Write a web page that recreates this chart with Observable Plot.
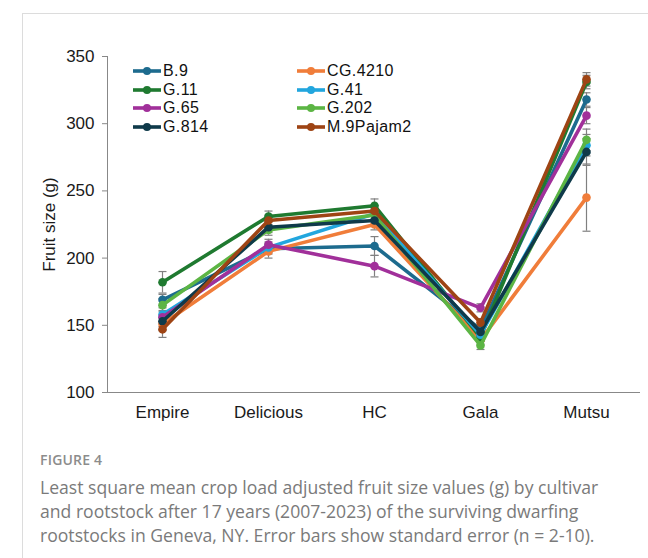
<!DOCTYPE html>
<html>
<head>
<meta charset="utf-8">
<script src="https://cdn.jsdelivr.net/npm/d3@7"></script>
<script src="https://cdn.jsdelivr.net/npm/@observablehq/plot@0.6"></script>
<style>
  body { margin: 0; background: #fff; }
  #wrap { position: relative; width: 648px; height: 558px; overflow: hidden; font-family: "Liberation Sans", Arial, sans-serif; }
  #frame { position: absolute; left: 22px; top: 13px; width: 700px; height: 700px; border-left: 1px solid #dcdcdc; border-top: 1px solid #dcdcdc; }
  #chart { position: absolute; left: 0; top: 0; }
  #legend { position: absolute; left: 0; top: 0; width: 648px; height: 0; }
  .item { position: absolute; display: flex; align-items: center; height: 14px; font-size: 16px; letter-spacing: 0.4px; color: #111; line-height: 14px; white-space: nowrap; }
  .item svg { margin-right: 2px; }
  #caption { position: absolute; left: 40px; top: 450px; width: 585px; font-family: "Open Sans", sans-serif; color: #7a7a7a; }
  #caption .fig { font-size: 14px; font-weight: 600; color: #8c8c8c; letter-spacing: 0.2px; line-height: 20px; }
  #caption .txt { font-size: 17.6px; line-height: 24px; margin-top: 5px; }
</style>
</head>
<body>
<div id="wrap">
  <div id="frame"></div>
  <div id="chart"></div>
  <div id="legend"></div>
  <div id="caption">
    <div class="fig">FIGURE 4</div>
    <div class="txt">Least square mean crop load adjusted fruit size values (g) by cultivar and rootstock after 17 years (2007-2023) of the surviving dwarfing rootstocks in Geneva, NY. Error bars show standard error (n = 2-10).</div>
  </div>
</div>
<script>
// Cultivars on the x axis
const cultivars = ["Empire", "Delicious", "HC", "Gala", "Mutsu"];

// Rootstocks (series) and their colours
const rootstocks = ["B.9", "CG.4210", "G.11", "G.41", "G.65", "G.202", "G.814", "M.9Pajam2"];
const colors = ["#1d6b8e", "#f07d3a", "#1f7a30", "#22a6de", "#a1309a", "#5cb544", "#0f3a4a", "#9e4414"];

// Least square mean fruit size (g), one value per cultivar
const sizeB9     = [169, 207, 209, 147, 318];
const sizeCG4210 = [151, 205, 225, 139, 245];
const sizeG11    = [182, 231, 239, 141, 331];
const sizeG41    = [158, 208, 233, 143, 284];
const sizeG65    = [156, 210, 194, 163, 306];
const sizeG202   = [165, 221, 232, 135, 288];
const sizeG814   = [153, 223, 228, 145, 279];
const sizeM9     = [147, 228, 235, 152, 333];

// Standard errors (g)
const seB9     = [4, 4, 7, 3, 5];
const seCG4210 = [5, 5, 4, 3, 25];
const seG11    = [8, 4, 5, 3, 5];
const seG41    = [5, 4, 4, 3, 8];
const seG65    = [5, 4, 8, 3, 6];
const seG202   = [5, 4, 4, 3, 8];
const seG814   = [4, 4, 4, 3, 10];
const seM9     = [6, 4, 4, 3, 5];

const sizes = [sizeB9, sizeCG4210, sizeG11, sizeG41, sizeG65, sizeG202, sizeG814, sizeM9];
const errors = [seB9, seCG4210, seG11, seG41, seG65, seG202, seG814, seM9];

const rows = rootstocks.flatMap((r, i) =>
  cultivars.map((c, j) => ({ rootstock: r, cultivar: c, size: sizes[i][j], se: errors[i][j] }))
);

// Short horizontal stroke used for the error-bar caps
const capSymbol = {
  draw(ctx, size) {
    const w = Math.sqrt(size / Math.PI);
    ctx.moveTo(-w, 0);
    ctx.lineTo(w, 0);
  }
};

const seriesMarks = rootstocks.flatMap((r) => {
  const data = rows.filter((d) => d.rootstock === r);
  return [
    Plot.line(data, { x: "cultivar", y: "size", stroke: "rootstock", strokeWidth: 3.6 }),
    Plot.dot(data, { x: "cultivar", y: "size", fill: "rootstock", r: 4.3 })
  ];
});

const chart = Plot.plot({
  width: 648,
  height: 430,
  marginLeft: 107,
  marginRight: 8,
  marginTop: 56,
  marginBottom: 38,
  style: { fontFamily: "Liberation Sans, Arial, sans-serif", fontSize: "17px", color: "#1a1a1a", background: "transparent" },
  x: { type: "point", domain: cultivars, padding: 0.5 },
  y: { domain: [100, 350] },
  color: { domain: rootstocks, range: colors },
  marks: [
    Plot.ruleX(rows, { x: "cultivar", y1: (d) => d.size - d.se, y2: (d) => d.size + d.se, stroke: "#808080", strokeWidth: 1.2 }),
    Plot.dot(rows, { x: "cultivar", y: (d) => d.size - d.se, symbol: capSymbol, r: 4, stroke: "#808080", strokeWidth: 1.2, fill: "none" }),
    Plot.dot(rows, { x: "cultivar", y: (d) => d.size + d.se, symbol: capSymbol, r: 4, stroke: "#808080", strokeWidth: 1.2, fill: "none" }),
    ...seriesMarks,
    Plot.frame({ anchor: "left", stroke: "#888" }),
    Plot.ruleY([100], { stroke: "#888" }),
    Plot.axisY({ ticks: [100, 150, 200, 250, 300, 350], tickSize: 5, tickPadding: 8, stroke: "#888", label: "Fruit size (g)", labelAnchor: "center", labelArrow: "none", labelOffset: 65 }),
    Plot.axisX({ tickSize: 0, tickPadding: 13, label: null })
  ]
});
document.getElementById("chart").appendChild(chart);

// Legend: two columns, series listed row by row
const legend = document.getElementById("legend");
rootstocks.forEach((r, i) => {
  const col = i % 2, row = Math.floor(i / 2);
  const item = document.createElement("div");
  item.className = "item";
  item.style.left = (133 + col * 164) + "px";
  item.style.top = (64 + row * 18.5) + "px";
  item.innerHTML = `<svg width="28" height="10"><line x1="0" y1="5" x2="28" y2="5" stroke="${colors[i]}" stroke-width="3.6"/><circle cx="14" cy="5" r="4" fill="${colors[i]}"/></svg>${r}`;
  legend.appendChild(item);
});
</script>
</body>
</html>
